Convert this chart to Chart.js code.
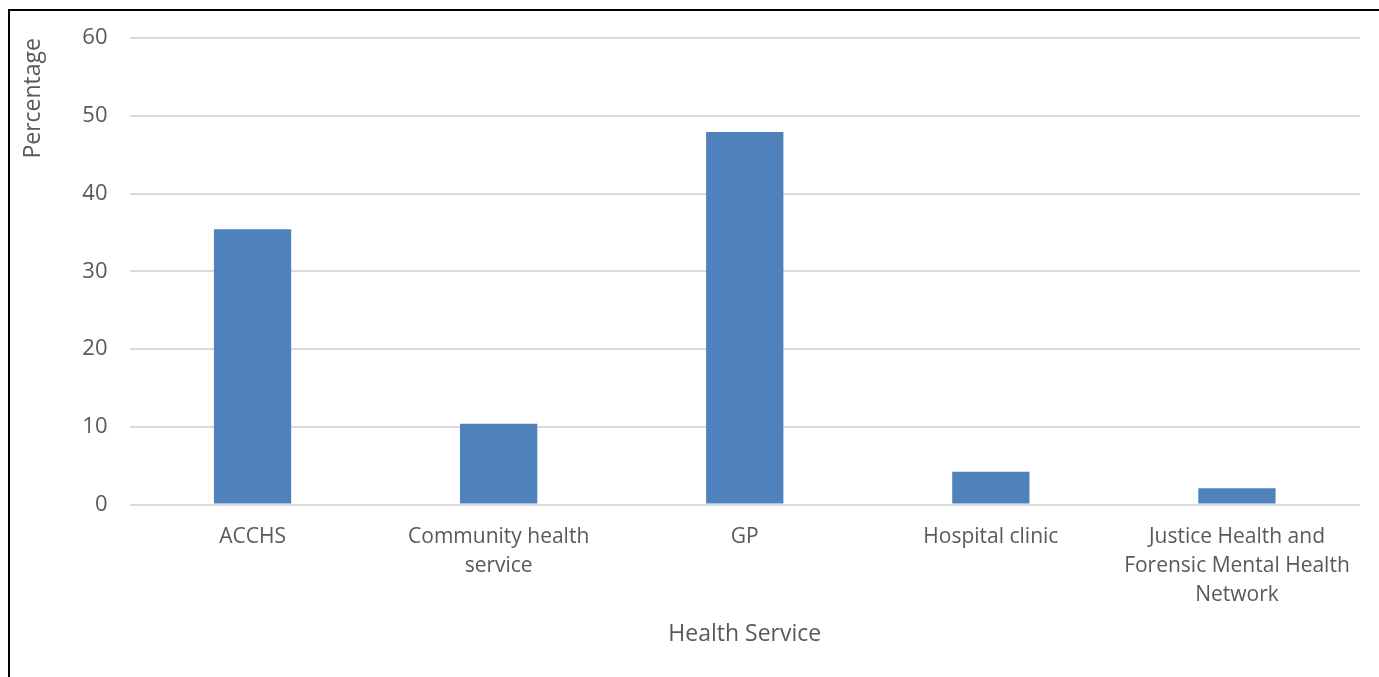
<!DOCTYPE html>
<html>
<head>
<meta charset="utf-8">
<script src="https://cdn.jsdelivr.net/npm/chart.js@4"></script>
<style>
html,body{margin:0;padding:0;background:#fff;}
#wrap{position:relative;width:1379px;height:677px;}
</style>
</head>
<body>
<div id="wrap"><canvas id="c" width="1379" height="677"></canvas></div>
<script>
const categories = [
  ["ACCHS"],
  ["Community health", "service"],
  ["GP"],
  ["Hospital clinic"],
  ["Justice Health and", "Forensic Mental Health", "Network"]
];
const values = [35.4, 10.4, 47.9, 4.2, 2.1];
const yTicks = [0, 10, 20, 30, 40, 50, 60];

const FONT = "'Open Sans', sans-serif";
const TXT = '#595959';

const framePlugin = {
  id: 'frame',
  beforeDraw(chart) {
    const ctx = chart.ctx;
    ctx.save();
    ctx.fillStyle = '#fff';
    ctx.fillRect(0, 0, chart.width, chart.height);
    ctx.strokeStyle = '#000';
    ctx.lineWidth = 2;
    ctx.beginPath();
    ctx.moveTo(9, chart.height + 2);
    ctx.lineTo(9, 10);
    ctx.lineTo(chart.width + 2, 10);
    ctx.stroke();
    ctx.restore();
  }
};

new Chart(document.getElementById('c'), {
  type: 'bar',
  data: {
    labels: categories,
    datasets: [{
      data: values,
      backgroundColor: '#4F81BD',
      borderWidth: 0,
      barPercentage: 0.314,
      categoryPercentage: 1.0
    }]
  },
  options: {
    responsive: false,
    animation: false,
    layout: { padding: { left: 0, top: 38, right: 19, bottom: 0 } },
    plugins: { legend: { display: false }, tooltip: { enabled: false } },
    scales: {
      x: {
        grid: { display: false, drawTicks: false },
        border: { display: false },
        ticks: { color: TXT, font: { family: FONT, size: 21, lineHeight: 1.39 }, padding: 18, maxRotation: 0, autoSkip: false },
        title: { display: true, text: 'Health Service', color: TXT, font: { family: FONT, size: 23 }, padding: { top: 10, bottom: 29 } },
        afterFit(s) { s.height = 172.5; }
      },
      y: {
        min: 0, max: 60,
        afterBuildTicks(s) { s.ticks = yTicks.map(v => ({ value: v })); },
        grid: { color: '#D9D9D9', lineWidth: 2, drawTicks: false },
        border: { display: false },
        ticks: { color: TXT, font: { family: FONT, size: 22 }, padding: 22 },
        title: { display: true, text: 'Percentage', align: 'end', color: TXT, font: { family: FONT, size: 23 }, padding: { top: 20, bottom: 0 } },
        afterFit(s) { s.width = 129.5; }
      }
    }
  },
  plugins: [framePlugin]
});
</script>
</body>
</html>
